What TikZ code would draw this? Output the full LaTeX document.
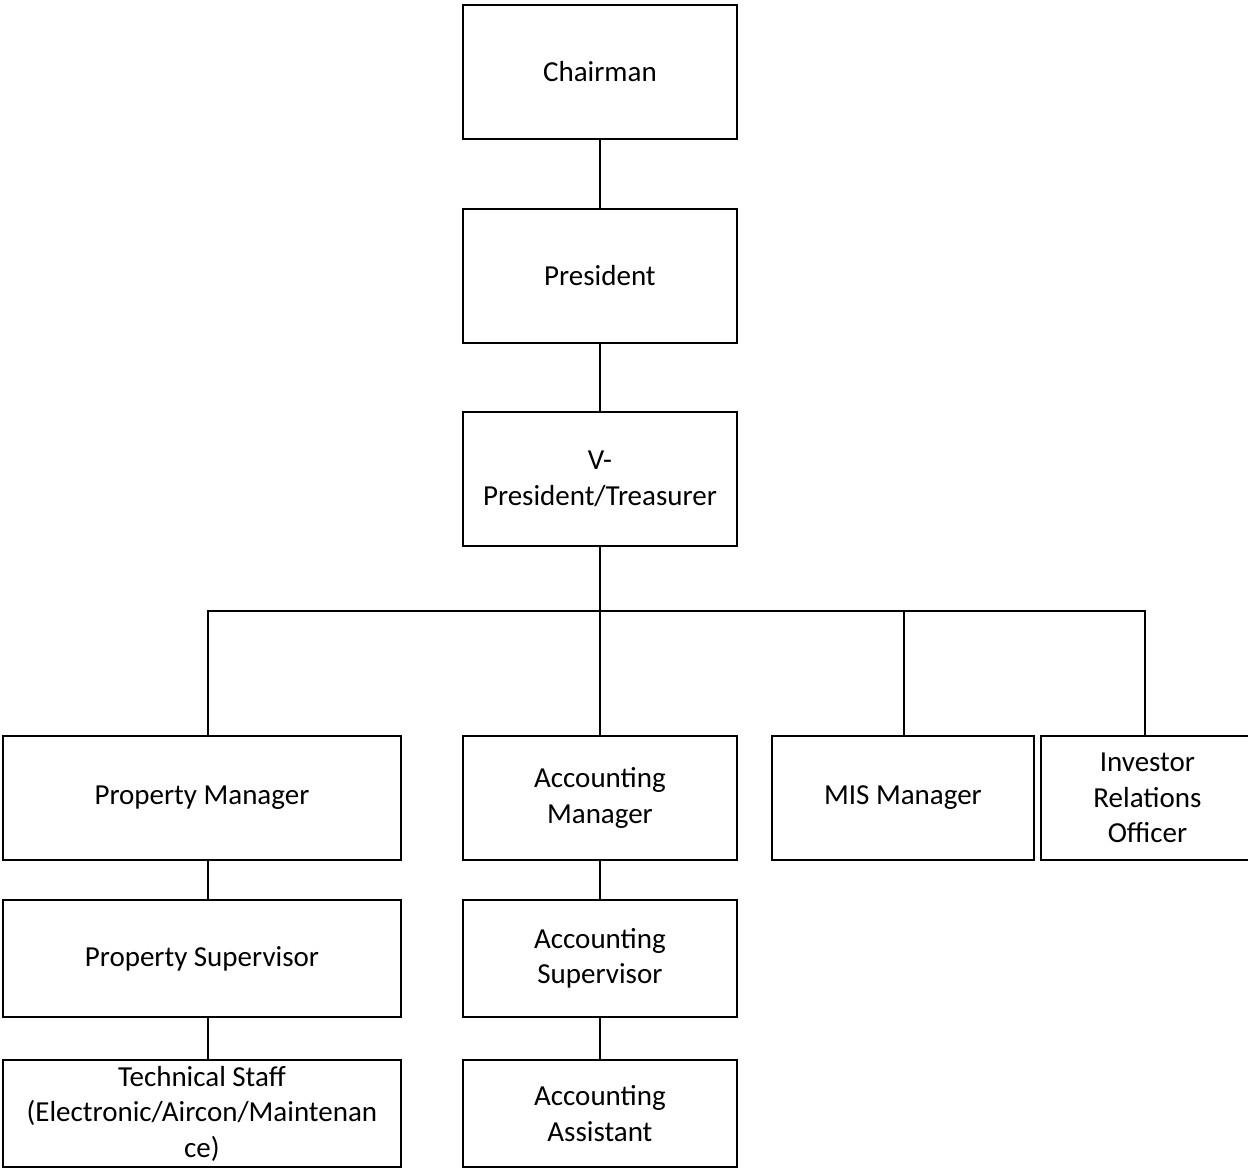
\documentclass[tikz,border=0pt]{standalone}
\usepackage{fontspec}
\setmainfont{Carlito}
\usetikzlibrary{positioning}

\begin{document}
\begin{tikzpicture}[
    x=0.02cm, y=-0.02cm,
    post/.style={
        rectangle,
        draw=black,
        line width=1.1pt,
        fill=white,
        align=center,
        font=\fontsize{16.5}{20.2}\selectfont,
        inner sep=2pt,
        anchor=north west
    },
    link/.style={
        line width=1.1pt,
        draw=black
    }
]
\useasboundingbox (0,0) rectangle (1248,1168);

% --- top of the chain ---
\node[post, minimum width=5.48cm, minimum height=2.68cm] (chair) at (462,4) {Chairman};
\node[post, minimum width=5.48cm, minimum height=2.68cm] (pres) at (462,208) {President};
\node[post, minimum width=5.48cm, minimum height=2.68cm] (vp) at (462,411) {V-\\President/Treasurer};

\draw[link] (chair) -- (pres);
\draw[link] (pres) -- (vp);

% --- managers ---
\node[post, minimum width=7.96cm, minimum height=2.48cm] (propmgr) at (2,735) {Property Manager};
\node[post, minimum width=5.48cm, minimum height=2.48cm] (accmgr) at (462,735) {Accounting\\Manager};
\node[post, minimum width=5.24cm, minimum height=2.48cm] (mismgr) at (771,735) {MIS Manager};
\node[post, minimum width=4.26cm, minimum height=2.48cm] (iro) at (1040,735) {Investor\\Relations\\Officer};

\coordinate (bus) at ([yshift=-1.28cm]vp.south);
\draw[link] (vp.south) -- (bus) -- (accmgr.north);
\draw[link] ([xshift=0.12cm]propmgr.north) |- (bus);
\draw[link] ([xshift=0.02cm]mismgr.north) |- (bus);
\draw[link] ([xshift=-0.04cm]iro.north) |- (bus);

% --- property line ---
\node[post, minimum width=7.96cm, minimum height=2.34cm] (propsup) at (2,899) {Property Supervisor};
\node[post, minimum width=7.96cm, minimum height=2.14cm] (tech) at (2,1059) {Technical Staff\\(Electronic/Aircon/Maintenan\\ce)};

\draw[link] ([xshift=0.12cm]propmgr.south) -- ([xshift=0.12cm]propsup.north);
\draw[link] ([xshift=0.12cm]propsup.south) -- ([xshift=0.12cm]tech.north);

% --- accounting line ---
\node[post, minimum width=5.48cm, minimum height=2.34cm] (accsup) at (462,899) {Accounting\\Supervisor};
\node[post, minimum width=5.48cm, minimum height=2.14cm] (accasst) at (462,1059) {Accounting\\Assistant};

\draw[link] (accmgr) -- (accsup);
\draw[link] (accsup) -- (accasst);

\end{tikzpicture}
\end{document}
